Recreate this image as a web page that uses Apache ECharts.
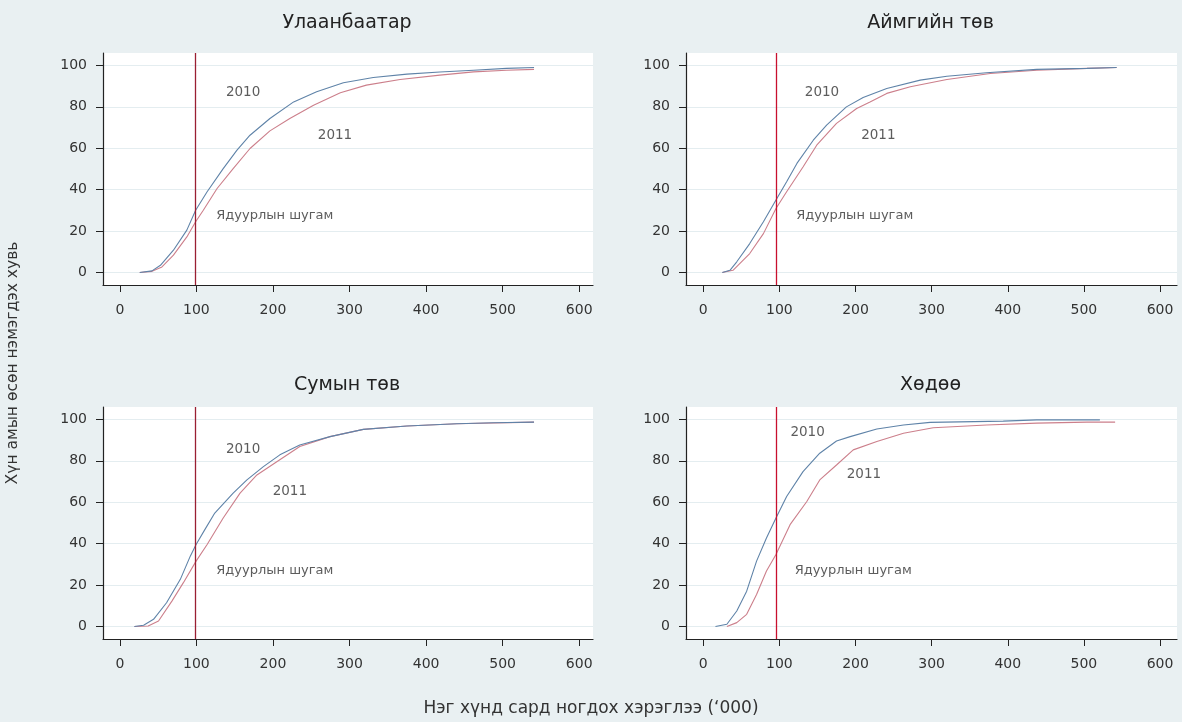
<!DOCTYPE html>
<html>
<head>
<meta charset="utf-8">
<script src="https://cdn.jsdelivr.net/npm/echarts@6/dist/echarts.min.js"></script>
<style>
html,body{margin:0;padding:0;background:#e9f0f2;}
#c{width:1182px;height:722px;}
</style>
</head>
<body>
<div id="c"></div>
<script>
// ---- Data ----
const panelTitles = ['Улаанбаатар', 'Аймгийн төв', 'Сумын төв', 'Хөдөө'];
const xTickValues = [0, 100, 200, 300, 400, 500, 600];
const yTickValues = [0, 20, 40, 60, 80, 100];
const povertyLines = [98, 96, 98, 96];

const ub2010 = [[26,0],[42,0.8],[53,3.5],[70,10.8],[87.5,20.5],[99,30.1],[114,39],[135,50.2],[153,59.1],[170,66.3],[196,74.4],[227,82.4],[257,87.3],[292,91.6],[331,94.2],[375,95.8],[418,96.8],[462,97.7],[505,98.6],[541,99]];
const ub2011 = [[26,0],[42,0.6],[55,2.7],[70,8.4],[87.5,17.2],[99,24.5],[109,30.1],[127,40.6],[148,50.2],[170,59.9],[196,68.4],[222,74.4],[253,80.8],[288,86.8],[322,90.5],[366,93.2],[418,95.3],[462,96.9],[505,97.7],[541,98.1]];

const aim2010 = [[25,0],[35,1.1],[44,5.2],[61,14],[79,24.5],[95.5,35],[109.5,43.8],[123,52.7],[144.5,63.9],[162,71.2],[188,80],[210,84.5],[241,88.9],[285,92.9],[320,94.8],[372,96.5],[438,98.1],[504,98.6],[543,99]];
const aim2011 = [[25,0],[39,1.1],[61,9.2],[79,18.8],[95.5,30.9],[109.5,39],[131,51],[149,61.5],[175,72],[201.5,79.2],[219,82.4],[241,86.5],[272,89.7],[320,93.2],[377,96.1],[438,97.7],[504,98.6],[543,99]];

const sum2010 = [[19,0],[31,0.6],[44,3.5],[61,11.5],[79,22.8],[92,34],[99.6,39.6],[111,46.8],[124,54.8],[148,64.4],[166,70.8],[187.5,77.2],[209,82.9],[235,87.7],[274.5,91.7],[318,95.2],[375,96.8],[440,97.9],[488,98.4],[541,98.7]];
const sum2011 = [[19,0],[37,0.3],[50.5,2.7],[68,12.3],[83,21.2],[99.6,31.6],[114,39.6],[135,52.4],[157,64.4],[179,73.2],[205,79.6],[235,86.9],[274.5,91.7],[318,95.2],[375,96.8],[440,97.9],[541,98.7]];

const rur2010 = [[16,0],[31,1.1],[44,7.5],[57,17.1],[70,31.6],[83,42.8],[95.5,52.4],[109.5,62.8],[131,74.8],[153,83.7],[175,89.6],[193,91.7],[228,95.4],[263,97.3],[298,98.6],[394,99.2],[438,99.8],[521,99.8]];
const rur2011 = [[31,0],[44,1.9],[57,5.9],[70,15.5],[83,26.8],[95.5,34.8],[114,49.2],[136,60.4],[153,70.8],[175,78],[197,85.3],[228,89.3],[263,93.3],[302,96],[372,97.3],[438,98.2],[504,98.7],[541,98.7]];

const yearLabelPos = [
  [[161,87],[281,66]],
  [[156,87],[230,66]],
  [[161,85.6],[222,65.2]],
  [[137,93.7],[211,73.6]]
];
const povertyLabelPos = [[126,27.7],[122,27.7],[126,26.8],[120,26.8]];
const yearNames = ['2010', '2011'];
const povertyLabel = 'Ядуурлын шугам';
const yTitle = 'Хүн амын өсөн нэмэгдэх хувь';
const xTitle = 'Нэг хүнд сард ногдох хэрэглээ (‘000)';

const series2010 = [ub2010, aim2010, sum2010, rur2010];
const series2011 = [ub2011, aim2011, sum2011, rur2011];

// ---- Layout / style ----
const FONT = '"DejaVu Sans", "Noto Sans", sans-serif';
const grids = [
  {left:103, top:53, width:490, height:232},
  {left:686, top:53, width:491, height:232},
  {left:103, top:407, width:490, height:232},
  {left:686, top:407, width:491, height:232}
];
const xRanges = [[-22,618],[-22.7,622.3],[-22,618],[-22.7,622.3]];
const vlineColors = ['#9a1f33', '#c8102e', '#9a1f33', '#c8102e'];
const titleY = [9, 371];
const blue = '#5f83a8';
const red = '#cc7f8b';

const option = {
  backgroundColor: '#e9f0f2',
  animation: false,
  textStyle: {fontFamily: FONT},
  title: [],
  grid: [],
  xAxis: [],
  yAxis: [],
  series: [],
  graphic: [
    {type:'text', x:5, y:363, rotation: Math.PI/2,
     style:{text:yTitle, font:'15.5px ' + FONT, fill:'#333', align:'center', verticalAlign:'top'}},
  ]
};

for (let i = 0; i < 4; i++) {
  const g = grids[i];
  option.grid.push(Object.assign({show:true, backgroundColor:'#ffffff', borderWidth:0}, g));
  option.title.push({
    text: panelTitles[i],
    left: g.left + g.width/2 - 6, top: titleY[i < 2 ? 0 : 1],
    textAlign: 'center',
    textStyle: {fontFamily: FONT, fontSize: 19, fontWeight: 'normal', color: '#222'}
  });
  option.xAxis.push({
    type:'value', gridIndex:i, min:xRanges[i][0], max:xRanges[i][1],
    axisLine:{show:true, onZero:false, lineStyle:{color:'#222', width:1.2}},
    axisTick:{show:true, length:7, customValues:xTickValues, lineStyle:{color:'#222'}},
    axisLabel:{customValues:xTickValues, color:'#333', fontSize:14, margin:18, fontFamily:FONT},
    splitLine:{show:false}
  });
  option.yAxis.push({
    type:'value', gridIndex:i, min:-6, max:106,
    axisLine:{show:true, onZero:false, lineStyle:{color:'#222', width:1.2}},
    axisTick:{show:true, length:7, customValues:yTickValues, lineStyle:{color:'#222'}},
    axisLabel:{customValues:yTickValues, color:'#333', fontSize:14, margin:16, fontFamily:FONT},
    splitLine:{show:true, lineStyle:{color:'#e4edf0', width:1}}
  });
  option.series.push({
    type:'line', xAxisIndex:i, yAxisIndex:i, data:series2011[i],
    showSymbol:false, symbol:'none',
    lineStyle:{color:red, width:1.1}, z:2,
    markLine:{
      silent:true, symbol:['none','none'], label:{show:false},
      lineStyle:{color:vlineColors[i], width:1.3, type:'solid'},
      data:[{xAxis: povertyLines[i]}]
    }
  });
  option.series.push({
    type:'line', xAxisIndex:i, yAxisIndex:i, data:series2010[i],
    showSymbol:false, symbol:'none',
    lineStyle:{color:blue, width:1.1}, z:3
  });
  option.series.push({
    type:'scatter', xAxisIndex:i, yAxisIndex:i, symbolSize:0, silent:true,
    data:[
      {value:yearLabelPos[i][0], name:yearNames[0]},
      {value:yearLabelPos[i][1], name:yearNames[1]}
    ],
    label:{show:true, position:'inside', formatter:'{b}', color:'#333', fontSize:13.5, fontFamily:FONT}
  });
  option.series.push({
    type:'scatter', xAxisIndex:i, yAxisIndex:i, symbolSize:0, silent:true,
    data:[{value:povertyLabelPos[i], name:povertyLabel}],
    label:{show:true, position:'right', distance:0, formatter:'{b}', color:'#333', fontSize:13, fontFamily:FONT}
  });
}

option.graphic.push({type:'text', left:'center', top:700,
  style:{text:xTitle, font:'17px ' + FONT, fill:'#333'}});

const chart = echarts.init(document.getElementById('c'), null, {renderer:'canvas'});
chart.setOption(option);
</script>
</body>
</html>
